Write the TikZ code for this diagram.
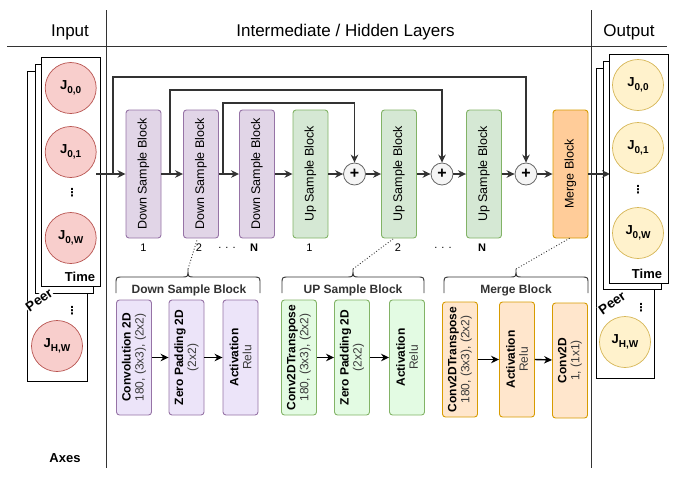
\documentclass[tikz,border=0pt]{standalone}
\usepackage{fontspec}
\setmainfont{Liberation Sans}
\newfontfamily\dejavu{DejaVu Sans}
\usetikzlibrary{arrows.meta,calc}
\definecolor{dsfill}{HTML}{E1D5E7}
\definecolor{dsdraw}{HTML}{9673A6}
\definecolor{dsfillb}{HTML}{ECE4F9}
\definecolor{usfill}{HTML}{D5E8D4}
\definecolor{usdraw}{HTML}{82B366}
\definecolor{usfillb}{HTML}{E3FBE3}
\definecolor{mgfill}{HTML}{FFCC99}
\definecolor{mgdraw}{HTML}{D79B00}
\definecolor{mgfillb}{HTML}{FFE6CC}
\definecolor{jinfill}{HTML}{F8CECC}
\definecolor{jindraw}{HTML}{B85450}
\definecolor{joutfill}{HTML}{FFF2CC}
\definecolor{joutdraw}{HTML}{D6B656}
\definecolor{dk}{HTML}{333333}
\definecolor{plusfill}{HTML}{F5F5F5}
\definecolor{plusdraw}{HTML}{666666}
\definecolor{subtxt}{HTML}{3A3A3A}
\newcommand{\sbs}[1]{\raisebox{-0.28em}{\fontsize{10}{11}\selectfont #1}}
\newcommand{\twoline}[2]{{\bfseries #1}\\{\color{subtxt}#2}}
\newcommand{\ubrace}[3]{%
  \draw[brc] (#1,293) -- (#1,284) .. controls (#1,277) .. (#1+7,277) -- (#2-6,277)
    .. controls (#2,277) .. (#2,269) .. controls (#2,277) .. (#2+6,277) -- (#3-7,277)
    .. controls (#3,277) .. (#3,284) -- (#3,293);}
\begin{document}
\begin{tikzpicture}[x=1pt,y=-1pt,
  hdr/.style={font=\fontsize{17}{20}\selectfont},
  tblock/.style={rectangle, rounded corners=3pt, rotate=90, minimum width=128, minimum height=35, inner sep=0pt, line width=0.9pt, font=\fontsize{12.5}{14}\selectfont},
  dsb/.style={tblock, fill=dsfill, draw=dsdraw},
  usb/.style={tblock, fill=usfill, draw=usdraw},
  mgb/.style={tblock, fill=mgfill, draw=mgdraw},
  bblock/.style={rectangle, rounded corners=3pt, rotate=90, minimum width=115, minimum height=35, inner sep=0pt, line width=0.9pt, align=center, font=\fontsize{12}{13}\selectfont},
  bds/.style={bblock, fill=dsfillb, draw=dsdraw},
  bus/.style={bblock, fill=usfillb, draw=usdraw},
  bmg/.style={bblock, fill=mgfillb, draw=mgdraw},
  plusn/.style={circle, minimum size=22, inner sep=0pt, fill=plusfill, draw=plusdraw, line width=0.8pt, font=\bfseries\fontsize{16}{16}\selectfont},
  flow/.style={draw=dk, line width=1.6pt, -{Stealth[length=8pt,width=7.5pt]}},
  barrow/.style={draw=black, line width=1.4pt, -{Stealth[length=8pt,width=7.5pt]}},
  jin/.style={circle, minimum size=51, inner sep=0pt, fill=jinfill, draw=jindraw, line width=0.7pt, font=\bfseries\fontsize{13}{14}\selectfont},
  jout/.style={jin, fill=joutfill, draw=joutdraw},
  panel/.style={draw=black, fill=white, line width=0.8pt},
  numl/.style={font=\fontsize{11}{12}\selectfont, inner sep=0pt},
  dotsl/.style={font=\dejavu\bfseries\fontsize{11}{12}\selectfont, inner sep=0pt},
  bold/.style={font=\bfseries\fontsize{13}{14}\selectfont, inner sep=1pt},
  peerl/.style={font=\bfseries\fontsize{13.5}{14}\selectfont, inner sep=0.5pt, rotate=35, fill=white},
  brc/.style={draw=dk, line width=0.9pt},
  brlbl/.style={font=\bfseries\fontsize{12}{14}\selectfont, text=dk, inner sep=0pt},
  dotline/.style={draw=dk, line width=0.9pt, dotted},
  frame/.style={draw=dk, line width=0.8pt}
]
\useasboundingbox (0,0) rectangle (676,480);

% header and frame lines
\coordinate (hl) at (7,46);
\coordinate (hr) at (667,46);
\coordinate (v1t) at (106,10);
\coordinate (v1b) at (106,468);
\coordinate (v2t) at (591,10);
\coordinate (v2b) at (591,468);
\draw[frame] (hl) -- (hr);
\draw[frame] (v1t) -- (v1b);
\draw[frame] (v2t) -- (v2b);
\node[hdr] (hin) at (70,32) {Input};
\node[hdr] (hmid) at (345.5,32) {Intermediate / Hidden Layers};
\node[hdr] (hout) at (629,32) {Output};

% input stack
\draw[panel] (27,71) rectangle (87,381);
\draw[panel] (35,64) rectangle (93,293);
\draw[panel] (41,57) rectangle (100,286);
\node[jin] (i00) at (70.7,88) {J\sbs{0,0}};
\node[jin] (i01) at (70.7,152) {J\sbs{0,1}};
\node[dotsl] (idots1) at (72,193) {⋮};
\node[jin] (i0w) at (70.7,238) {J\sbs{0,W}};
\node[bold] (itime) at (80,277) {Time};
\node[peerl] (ipeer) at (39,300) {Peer};
\node[dotsl] (idots2) at (72,311) {⋮};
\node[jin] (ihw) at (57,346) {J\sbs{H,W}};
\node[bold] (axes) at (65,458) {Axes};

% output stack
\draw[panel] (596,68) rectangle (654,378);
\draw[panel] (603,61) rectangle (661,289);
\draw[panel] (609,54) rectangle (668,283);
\node[jout] (o00) at (638,85) {J\sbs{0,0}};
\node[jout] (o01) at (638,148) {J\sbs{0,1}};
\node[dotsl] (odots1) at (638,190) {⋮};
\node[jout] (o0w) at (638,233) {J\sbs{0,W}};
\node[bold] (otime) at (647,274) {Time};
\node[peerl] (opeer) at (612,303) {Peer};
\node[dotsl] (odots2) at (641,308) {⋮};
\node[jout] (ohw) at (625,342) {J\sbs{H,W}};

% top row blocks
\node[dsb] (d1) at (143.5,174) {Down Sample Block};
\node[dsb] (d2) at (201,174) {Down Sample Block};
\node[dsb] (d3) at (257,174) {Down Sample Block};
\node[usb] (u1) at (310.5,174) {Up Sample Block};
\node[plusn] (p1) at (354.5,174) {+};
\node[usb] (u2) at (399,174) {Up Sample Block};
\node[plusn] (p2) at (442,174) {+};
\node[usb] (u3) at (484,174) {Up Sample Block};
\node[plusn] (p3) at (526,174) {+};
\node[mgb] (mg) at (570.5,174) {Merge Block};

% numbers
\node[numl] (n1) at (143.5,248) {1};
\node[numl] (n2) at (199,248) {2};
\node[numl] (n3) at (227,248) {. . .};
\node[numl, font=\bfseries\fontsize{11}{12}\selectfont] (n4) at (254,248) {N};
\node[numl] (n5) at (309.5,248) {1};
\node[numl] (n6) at (398,248) {2};
\node[numl] (n7) at (443,248) {. . .};
\node[numl, font=\bfseries\fontsize{11}{12}\selectfont] (n8) at (482,248) {N};

% main flow
\coordinate (inp) at (96,174);
\coordinate (outp) at (610,174);
\coordinate (s1) at (113,174);
\coordinate (s2) at (170,174);
\coordinate (s3) at (223,174);
\coordinate (k1) at (113,77);
\coordinate (k2) at (170,90);
\coordinate (k3) at (223,103);
\draw[flow] (inp) -- (d1);
\draw[flow] (d1) -- (d2);
\draw[flow] (d2) -- (d3);
\draw[flow] (d3) -- (u1);
\draw[flow] (u1) -- (p1);
\draw[flow] (p1) -- (u2);
\draw[flow] (u2) -- (p2);
\draw[flow] (p2) -- (u3);
\draw[flow] (u3) -- (p3);
\draw[flow] (p3) -- (mg);
\draw[flow] (mg) -- (outp);
\draw[flow] (s1) -- (k1) -| (p3.north);
\draw[flow] (s2) -- (k2) -| (p2.north);
\draw[flow] (s3) -- (k3) -| (p1.north);

% braces
\ubrace{116}{188}{260}
\ubrace{282}{353}{424}
\ubrace{444}{516}{588}
\node[brlbl] (bl1) at (189,290) {Down Sample Block};
\node[brlbl] (bl2) at (353,290) {UP Sample Block};
\node[brlbl] (bl3) at (516,290) {Merge Block};
\coordinate (t1) at (188,269);
\coordinate (t2) at (353,269);
\coordinate (t3) at (516,269);
\coordinate (e1) at (197,240);
\coordinate (e2) at (393,239);
\coordinate (e3) at (570,238);
\draw[dotline] (t1) -- (e1);
\draw[dotline] (t2) -- (e2);
\draw[dotline] (t3) -- (e3);

% bottom blocks
\node[bds] (c1) at (134,357.5) {\twoline{Convolution 2D}{180, (3x3), (2x2)}};
\node[bds] (c2) at (186.5,357.5) {\twoline{Zero Padding 2D}{(2x2)}};
\node[bds] (c3) at (240.5,357.5) {\twoline{Activation}{Relu}};
\node[bus] (c4) at (299,357.5) {\twoline{Conv2DTranspose}{180, (3x3), (2x2)}};
\node[bus] (c5) at (352,357.5) {\twoline{Zero Padding 2D}{(2x2)}};
\node[bus] (c6) at (407,357.5) {\twoline{Activation}{Relu}};
\node[bmg] (c7) at (460,359.5) {\twoline{Conv2DTranspose}{180, (3x3), (2x2)}};
\node[bmg] (c8) at (517,359.5) {\twoline{Activation}{Relu}};
\node[bmg] (c9) at (570,360.5) {\twoline{Conv2D}{1, (1x1)}};
\draw[barrow] (c1) -- (c2);
\draw[barrow] (c2) -- (c3);
\draw[barrow] (c4) -- (c5);
\draw[barrow] (c5) -- (c6);
\draw[barrow] (c7) -- (c8);
\draw[barrow] (c8.south |- c8.center) -- (c9);
\end{tikzpicture}
\end{document}
